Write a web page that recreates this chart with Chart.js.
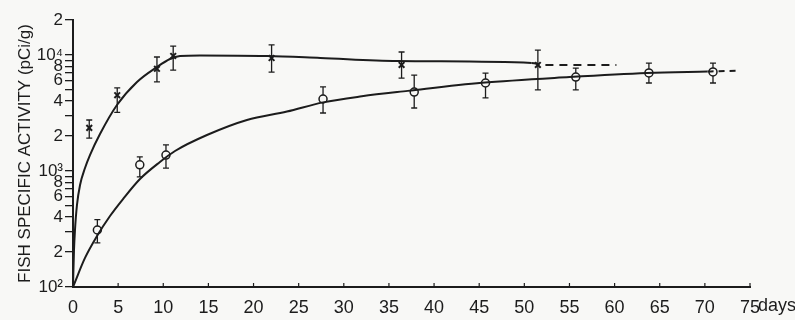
<!DOCTYPE html>
<html>
<head>
<meta charset="utf-8">
<script src="https://cdn.jsdelivr.net/npm/chart.js@4/dist/chart.umd.min.js"></script>
<style>
  html, body { margin: 0; padding: 0; background: #f8f8f6; }
  #wrap { width: 795px; height: 320px; position: relative; }
</style>
</head>
<body>
<div id="wrap"><canvas id="fishChart"></canvas></div>
<script>
const INK = '#1c1c1c';
const FONT = "'Liberation Sans', Arial, sans-serif";

// x marks (upper series)
const crossDays = [1.8, 4.9, 9.3, 11.1, 22.0, 36.4, 51.5];
const crossActivity = [2350, 4500, 7600, 9800, 9400, 8200, 8200];
const crossLow = [1920, 3200, 5850, 7400, 7100, 6300, 5000];
const crossHigh = [2750, 5200, 9600, 11900, 12200, 10600, 11000];

// open circles (lower series)
const circleDays = [2.7, 7.4, 10.3, 27.7, 37.8, 45.7, 55.7, 63.8, 70.9];
const circleActivity = [310, 1130, 1370, 4170, 4790, 5730, 6450, 6990, 7130];
const circleLow = [240, 890, 1060, 3160, 3490, 4260, 4990, 5730, 5730];
const circleHigh = [380, 1320, 1680, 5300, 6700, 6980, 7700, 8500, 8500];

// hand drawn curves
const upperCurveDays = [0, 0.11, 0.22, 0.44, 0.78, 1.33, 1.88, 2.99, 4.87, 7.09, 9.3, 10.74, 11.85, 14.06, 21.5, 27.4, 35.9, 50.8, 52.3, 60.2];
const upperCurveActivity = [100, 208, 310, 509, 757, 1060, 1370, 2080, 3700, 5850, 7870, 9230, 9790, 9900, 9790, 9420, 8870, 8520, 8190, 8190];
const upperDashFrom = 17;

const lowerCurveDays = [0, 1.33, 2.66, 4.1, 5.54, 7.42, 9.63, 11.3, 14.84, 19.27, 23.7, 27.7, 32.0, 37.1, 45.3, 55.0, 63.6, 70.3, 73.5];
const lowerCurveActivity = [100, 178, 275, 409, 573, 853, 1195, 1486, 2040, 2750, 3250, 3900, 4400, 4900, 5750, 6450, 6990, 7200, 7300];
const lowerDashFrom = 17;

const xTickValues = [0, 5, 10, 15, 20, 25, 30, 35, 40, 45, 50, 55, 60, 65, 70, 75];
const yTickValues = [100, 200, 300, 400, 500, 600, 700, 800, 900, 1000, 2000, 3000, 4000, 5000, 6000, 7000, 8000, 9000, 10000, 20000];
const yTickLabels = ['10²', '2', '', '4', '', '6', '', '8', '', '10³', '2', '', '4', '', '6', '', '8', '', '10⁴', '2'];

const pts = (xs, ys) => xs.map((x, i) => ({ x, y: ys[i] }));

const extras = {
  id: 'extras',
  beforeDatasetsDraw(chart) {
    const { ctx, scales: { x, y } } = chart;
    ctx.save();
    ctx.strokeStyle = INK;
    ctx.lineWidth = 1.3;
    const bars = (days, lo, hi) => days.forEach((d, i) => {
      const px = x.getPixelForValue(d);
      const y1 = y.getPixelForValue(hi[i]);
      const y2 = y.getPixelForValue(lo[i]);
      ctx.beginPath();
      ctx.moveTo(px, y1); ctx.lineTo(px, y2);
      ctx.moveTo(px - 3, y1); ctx.lineTo(px + 3, y1);
      ctx.moveTo(px - 3, y2); ctx.lineTo(px + 3, y2);
      ctx.stroke();
    });
    bars(crossDays, crossLow, crossHigh);
    bars(circleDays, circleLow, circleHigh);
    ctx.restore();
  },
  afterDraw(chart) {
    const { ctx, scales: { x }, chartArea } = chart;
    ctx.save();
    ctx.strokeStyle = INK;
    ctx.lineWidth = 1.2;
    xTickValues.forEach(v => {
      const px = x.getPixelForValue(v);
      ctx.beginPath();
      ctx.moveTo(px, chartArea.bottom);
      ctx.lineTo(px, chartArea.bottom - 4);
      ctx.stroke();
    });
    ctx.fillStyle = INK;
    ctx.font = '18px ' + FONT;
    ctx.textBaseline = 'middle';
    ctx.fillText('days', x.getPixelForValue(75) + 8, chartArea.bottom + 19);
    ctx.restore();
  }
};

new Chart(document.getElementById('fishChart'), {
  type: 'line',
  data: {
    datasets: [
      {
        data: pts(upperCurveDays, upperCurveActivity),
        borderColor: INK, borderWidth: 2, pointRadius: 0,
        cubicInterpolationMode: 'monotone',
        segment: { borderDash: c => c.p0DataIndex >= upperDashFrom ? [8, 6] : undefined },
      },
      {
        data: pts(lowerCurveDays, lowerCurveActivity),
        borderColor: INK, borderWidth: 2, pointRadius: 0,
        cubicInterpolationMode: 'monotone',
        segment: { borderDash: c => c.p0DataIndex >= lowerDashFrom ? [6, 5] : undefined },
      },
      {
        data: pts(crossDays, crossActivity),
        showLine: false,
        pointStyle: 'crossRot', pointRadius: 4, pointBorderWidth: 2,
        pointBorderColor: INK,
      },
      {
        data: pts(circleDays, circleActivity),
        showLine: false,
        pointStyle: 'circle', pointRadius: 4, pointBorderWidth: 1.5,
        pointBorderColor: INK, pointBackgroundColor: '#f8f8f6',
      },
    ],
  },
  options: {
    responsive: true,
    maintainAspectRatio: false,
    animation: false,
    layout: { padding: { left: 0, right: 45, top: 20, bottom: 0 } },
    plugins: { legend: { display: false }, tooltip: { enabled: false } },
    scales: {
      x: {
        type: 'linear', min: 0, max: 75,
        afterBuildTicks: s => { s.ticks = xTickValues.map(v => ({ value: v })); },
        afterFit: s => { s.height = 33; },
        grid: { display: false, drawTicks: false },
        border: { color: INK, width: 2 },
        ticks: { color: INK, padding: 10, maxRotation: 0, font: { family: FONT, size: 18 } },
      },
      y: {
        type: 'logarithmic', min: 100, max: 20000,
        afterBuildTicks: s => { s.ticks = yTickValues.map(v => ({ value: v })); },
        afterFit: s => { s.width = 73; },
        grid: { drawOnChartArea: false, drawTicks: true, tickLength: 8, color: INK, lineWidth: 1.3 },
        border: { color: INK, width: 2 },
        ticks: {
          color: INK, padding: 2, autoSkip: false,
          font: { family: FONT, size: 17 },
          callback: (v, i) => yTickLabels[i],
        },
        title: {
          display: true, text: 'FISH SPECIFIC ACTIVITY (pCi/g)', color: INK,
          font: { family: FONT, size: 17 }, padding: { top: 15, bottom: 0 },
        },
      },
    },
  },
  plugins: [extras],
});
</script>
</body>
</html>
